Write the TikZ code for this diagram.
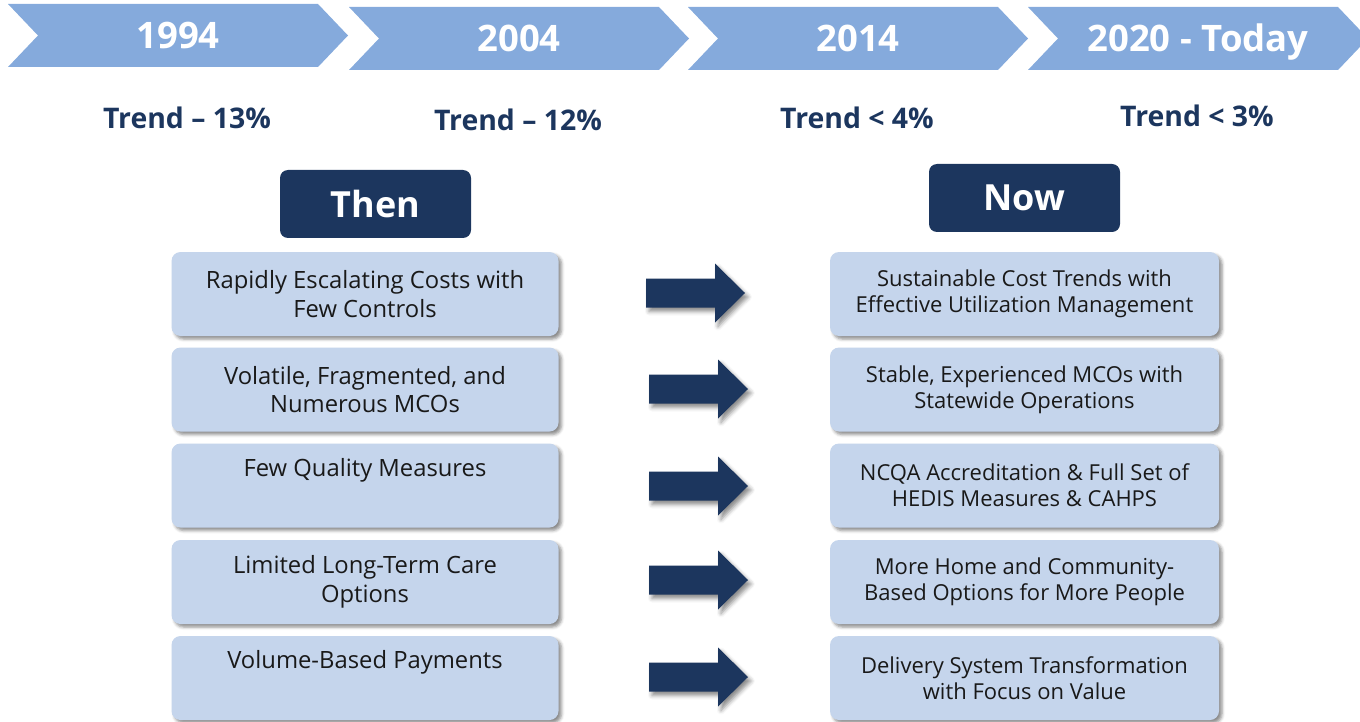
\documentclass[tikz,border=0pt]{standalone}
\usepackage{fontspec}
\setmainfont{Open Sans}
\usetikzlibrary{positioning,shadows.blur}
\definecolor{chevblue}{RGB}{133,170,220}
\definecolor{navy}{RGB}{28,54,94}
\definecolor{boxblue}{RGB}{197,213,236}
\definecolor{boxtext}{RGB}{25,25,25}

\tikzset{
  yeartext/.style={text=white, anchor=base, font=\bfseries\fontsize{36.5}{40}\selectfont},
  trendtext/.style={text=navy, anchor=base, font=\bfseries\fontsize{28.4}{32}\selectfont},
  headbox/.style={fill=navy, rounded corners=8pt, minimum width=191pt, minimum height=68pt,
    text=white, font=\bfseries\fontsize{36}{40}\selectfont},
  oldbox/.style={fill=boxblue, rounded corners=9pt, minimum width=387pt, minimum height=84pt,
    text=boxtext, align=center, font=\fontsize{23.8}{28.5}\selectfont,
    blur shadow={shadow xshift=3pt, shadow yshift=-3pt, shadow blur radius=3pt, shadow opacity=45}},
  newbox/.style={oldbox, minimum width=389pt, font=\fontsize{22}{26}\selectfont},
  bigarrow/.style={fill=navy,
    blur shadow={shadow xshift=3pt, shadow yshift=-4pt, shadow blur radius=4pt, shadow opacity=45}}
}

\begin{document}
\begin{tikzpicture}[x=1pt,y=-1pt]
\useasboundingbox (0,0) rectangle (1360,722);

% timeline chevrons
\foreach \i/\x/\y/\yr in {1/8/4/1994, 2/349/7/2004, 3/688/7/2014, 4/1028/7/{2020 - Today}}{
  \fill[chevblue] (\x,\y) -- ++(310,0) -- ++(30,31.5) -- ++(-30,31.5) -- ++(-310,0) -- ++(30,-31.5) -- cycle;
  \node[yeartext] (yr\i) at (\x+170,\y+45) {\yr};
}

% trends
\node[trendtext] (tr1) at (187,129) {Trend – 13\%};
\node[trendtext] (tr2) at (518,131) {Trend – 12\%};
\node[trendtext] (tr3) at (857,129) {Trend < 4\%};
\node[trendtext] (tr4) at (1197,127) {Trend < 3\%};

% headers
\node[headbox] (then) at (375.5,204) {Then};
\node[headbox] (now) at (1024.5,198) {Now};

% left column
\node[oldbox] (old1) at (365,294) {Rapidly Escalating Costs with\\Few Controls};
\node[oldbox] (old2) at (365,389.5) {Volatile, Fragmented, and\\Numerous MCOs};
\node[oldbox] (old3) at (365,485.5) {Few Quality Measures\\\strut};
\node[oldbox] (old4) at (365,582) {Limited Long-Term Care\\Options};
\node[oldbox] (old5) at (365,678) {Volume-Based Payments\\\strut};

% right column
\node[newbox] (new1) at (1024.5,294) {Sustainable Cost Trends with\\Effective Utilization Management};
\node[newbox] (new2) at (1024.5,389.5) {Stable, Experienced MCOs with\\Statewide Operations};
\node[newbox] (new3) at (1024.5,485.5) {NCQA Accreditation \& Full Set of\\HEDIS Measures \& CAHPS};
\node[newbox] (new4) at (1024.5,582) {More Home and Community-\\Based Options for More People};
\node[newbox] (new5) at (1024.5,678) {Delivery System Transformation\\with Focus on Value};

% arrows
\foreach \x/\y in {646/293, 649/389, 649/486, 649/580, 649/677}{
  \fill[bigarrow] (\x,\y-14.5) -- ++(69,0) -- ++(0,-15) -- ++(30,29.5) -- ++(-30,29.5) -- ++(0,-15) -- ++(-69,0) -- cycle;
}
\end{tikzpicture}
\end{document}
